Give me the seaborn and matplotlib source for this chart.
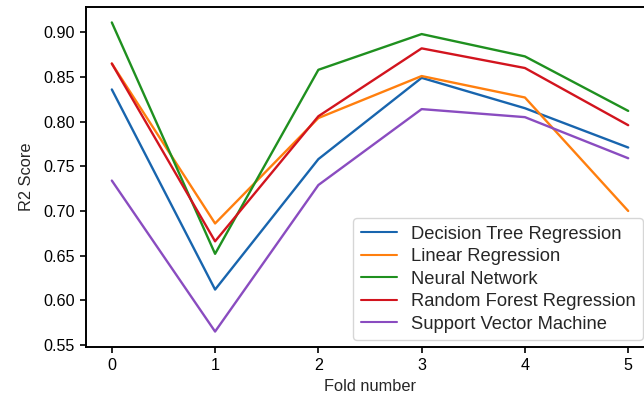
import numpy as np
import pandas as pd
import matplotlib
matplotlib.use("Agg")
import matplotlib.pyplot as plt
import seaborn as sns

folds = [0, 1, 2, 3, 4, 5]
models = ["Decision Tree Regression", "Linear Regression", "Neural Network",
          "Random Forest Regression", "Support Vector Machine"]
decision_tree = [0.836, 0.612, 0.758, 0.849, 0.815, 0.771]
linear_reg = [0.865, 0.686, 0.804, 0.851, 0.827, 0.700]
neural_net = [0.911, 0.652, 0.858, 0.898, 0.873, 0.812]
random_forest = [0.865, 0.666, 0.806, 0.882, 0.860, 0.796]
svm = [0.734, 0.565, 0.729, 0.814, 0.805, 0.759]
colors = ["#1865ae", "#ff7f0e", "#1f901f", "#d2141e", "#8a4cc0"]

series = [decision_tree, linear_reg, neural_net, random_forest, svm]
df = pd.DataFrame({
    "fold": folds * len(models),
    "model": [m for m in models for _ in folds],
    "r2": [v for s in series for v in s],
})

sns.set_style("ticks")
plt.rcParams["font.family"] = ["Liberation Sans", "DejaVu Sans"]

fig = plt.figure(figsize=(6.44, 3.95), dpi=100)
ax = fig.add_axes([86/644, 1 - 347/395, (654 - 86)/644, (347 - 7)/395])

sns.lineplot(data=df, x="fold", y="r2", hue="model", palette=colors,
             linewidth=1.7, ax=ax, legend=True)

ax.set_xlabel("Fold number", fontsize=11.8, labelpad=4)
ax.set_ylabel("R2 Score", fontsize=11.8, labelpad=7)
ax.set_xticks(folds)
ax.set_yticks([0.55, 0.60, 0.65, 0.70, 0.75, 0.80, 0.85, 0.90])
ax.tick_params(labelsize=11.6, length=4, width=1.2, direction="out", colors="black", pad=4)
for sp in ax.spines.values():
    sp.set_linewidth(1.4)
    sp.set_color("black")
ax.margins(x=0.05, y=0.05)

leg = ax.legend(loc="lower right", bbox_to_anchor=(643/644, 1 - 340/395),
                bbox_transform=fig.transFigure, borderaxespad=0,
                fontsize=13.2, frameon=True, title=None, labelspacing=0.3,
                handlelength=2.0, handletextpad=0.75)
for line in leg.get_lines():
    line.set_linewidth(1.5)

fig.savefig("out.png", dpi=100)
